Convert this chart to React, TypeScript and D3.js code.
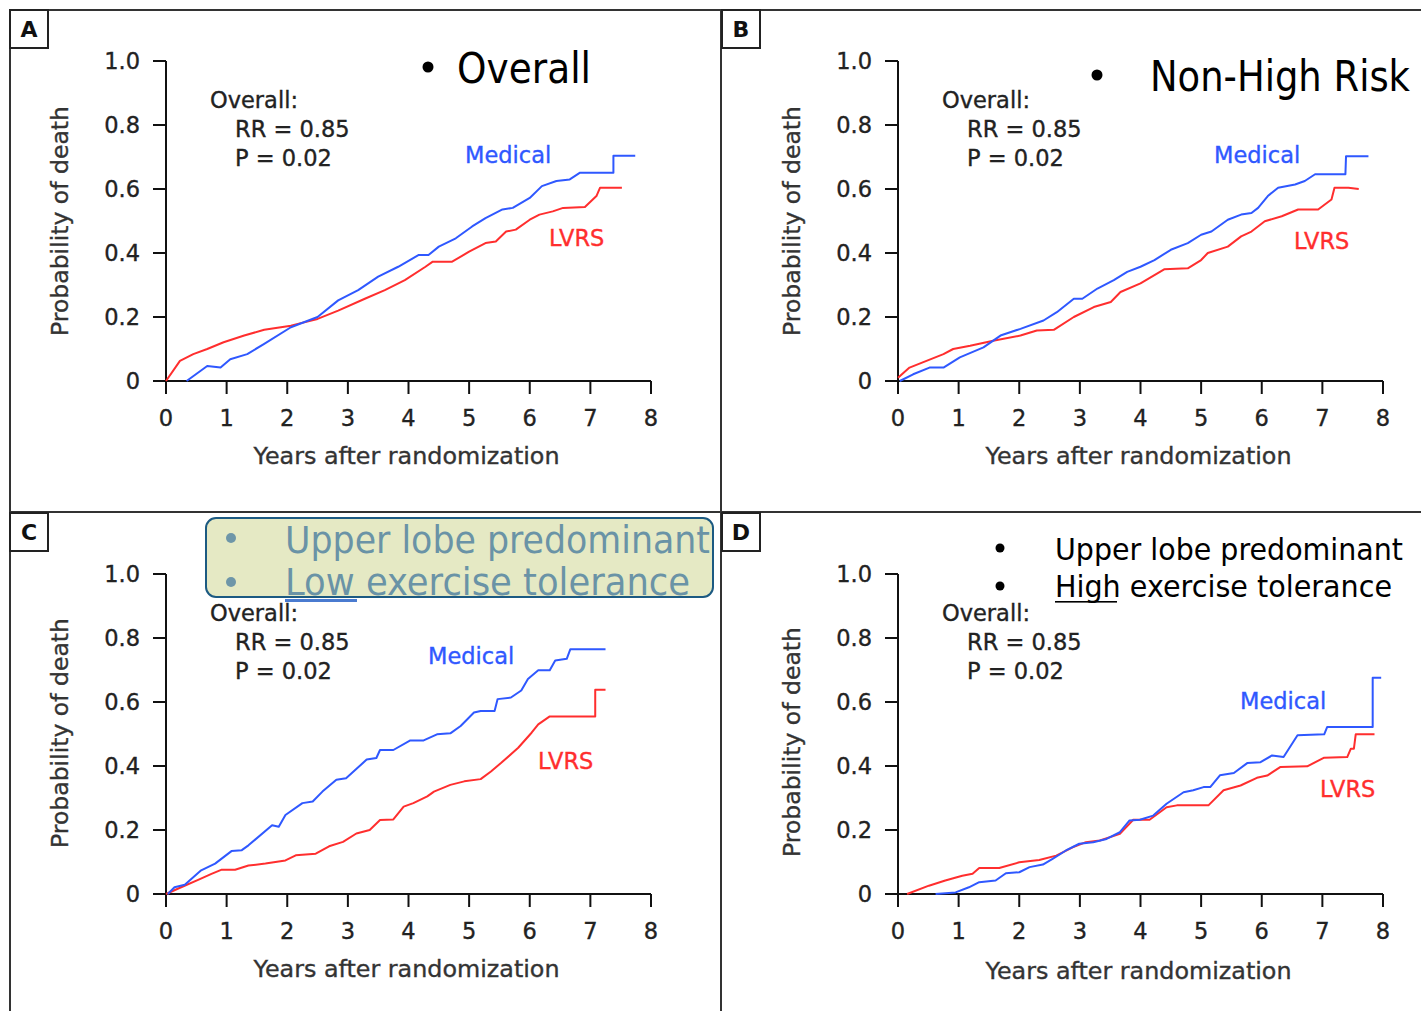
import React from "react";
import * as d3 from "d3";

// ---------- data (years after randomization, probability of death) ----------
const xTicks = [0, 1, 2, 3, 4, 5, 6, 7, 8];
const yTicks = [0, 0.2, 0.4, 0.6, 0.8, 1.0];
const yTickLabels = ["0", "0.2", "0.4", "0.6", "0.8", "1.0"];

const medicalA: [number, number][] = [
  [0.34, 0], [0.68, 0.047], [0.9, 0.042], [1.06, 0.068], [1.34, 0.084], [1.62, 0.116],
  [2.06, 0.168], [2.5, 0.2], [2.84, 0.252], [3.17, 0.284], [3.5, 0.326], [3.83, 0.357],
  [4.17, 0.394], [4.33, 0.394], [4.5, 0.42], [4.78, 0.446], [5.05, 0.483], [5.27, 0.509],
  [5.55, 0.536], [5.72, 0.541], [6.0, 0.572], [6.2, 0.609], [6.44, 0.625], [6.66, 0.63],
  [6.83, 0.651], [7.38, 0.651], [7.38, 0.704], [7.74, 0.704],
];
const lvrsA: [number, number][] = [
  [0, 0], [0.23, 0.063], [0.45, 0.084], [0.68, 0.1], [0.95, 0.121], [1.29, 0.142],
  [1.62, 0.16], [2.06, 0.173], [2.5, 0.194], [2.84, 0.22], [3.28, 0.257], [3.61, 0.284],
  [3.94, 0.315], [4.28, 0.357], [4.4, 0.373], [4.72, 0.373], [5.0, 0.404], [5.27, 0.431],
  [5.44, 0.436], [5.61, 0.467], [5.77, 0.473], [6.0, 0.504], [6.16, 0.52], [6.38, 0.53],
  [6.55, 0.541], [6.91, 0.544], [7.1, 0.578], [7.16, 0.604], [7.52, 0.604],
];
const medicalB: [number, number][] = [
  [0.03, 0], [0.25, 0.021], [0.52, 0.042], [0.75, 0.042], [1.02, 0.074], [1.41, 0.105],
  [1.69, 0.142], [2.02, 0.163], [2.4, 0.189], [2.62, 0.215], [2.9, 0.257], [3.04, 0.257],
  [3.29, 0.289], [3.56, 0.315], [3.78, 0.341], [4.0, 0.357], [4.23, 0.378], [4.5, 0.41],
  [4.78, 0.431], [5.0, 0.457], [5.17, 0.467], [5.44, 0.504], [5.66, 0.52], [5.83, 0.525],
  [5.94, 0.541], [6.1, 0.578], [6.27, 0.604], [6.55, 0.614], [6.71, 0.625], [6.88, 0.646],
  [7.38, 0.646], [7.39, 0.702], [7.76, 0.702],
];
const lvrsB: [number, number][] = [
  [0, 0.01], [0.19, 0.042], [0.47, 0.063], [0.75, 0.084], [0.91, 0.1], [1.19, 0.11],
  [1.57, 0.126], [2.02, 0.142], [2.29, 0.158], [2.57, 0.16], [2.9, 0.2], [3.23, 0.231],
  [3.51, 0.247], [3.67, 0.278], [4.0, 0.305], [4.39, 0.349], [4.78, 0.352], [5.0, 0.378],
  [5.11, 0.4], [5.44, 0.42], [5.66, 0.452], [5.83, 0.467], [6.05, 0.499], [6.33, 0.515],
  [6.6, 0.536], [6.93, 0.536], [7.15, 0.567], [7.2, 0.604], [7.43, 0.604], [7.6, 0.6],
];
const medicalC: [number, number][] = [
  [0.03, 0], [0.14, 0.021], [0.31, 0.029], [0.58, 0.074], [0.81, 0.095], [1.08, 0.134],
  [1.25, 0.137], [1.36, 0.152], [1.75, 0.215], [1.86, 0.21], [1.97, 0.247], [2.25, 0.284],
  [2.42, 0.289], [2.58, 0.32], [2.81, 0.357], [2.97, 0.362], [3.31, 0.42], [3.47, 0.425],
  [3.53, 0.45], [3.75, 0.45], [4.03, 0.48], [4.25, 0.48], [4.47, 0.499], [4.69, 0.502],
  [4.86, 0.525], [5.08, 0.567], [5.19, 0.572], [5.42, 0.572], [5.47, 0.609], [5.69, 0.614],
  [5.86, 0.636], [5.97, 0.672], [6.14, 0.699], [6.33, 0.699], [6.42, 0.73], [6.61, 0.735],
  [6.67, 0.765], [7.25, 0.765],
];
const lvrsC: [number, number][] = [
  [0, 0], [0.25, 0.021], [0.53, 0.044], [0.75, 0.063], [0.92, 0.076], [1.14, 0.076],
  [1.36, 0.089], [1.64, 0.095], [1.97, 0.105], [2.14, 0.121], [2.47, 0.126], [2.69, 0.149],
  [2.92, 0.163], [3.14, 0.189], [3.36, 0.2], [3.53, 0.231], [3.75, 0.233], [3.92, 0.273],
  [4.08, 0.284], [4.31, 0.305], [4.42, 0.32], [4.69, 0.341], [4.92, 0.352], [5.19, 0.359],
  [5.36, 0.383], [5.53, 0.41], [5.81, 0.457], [6.03, 0.504], [6.14, 0.53], [6.33, 0.555],
  [7.08, 0.555], [7.08, 0.638], [7.25, 0.638],
];
const medicalD: [number, number][] = [
  [0.62, 0], [0.95, 0.005], [1.17, 0.021], [1.34, 0.037], [1.61, 0.042], [1.78, 0.065],
  [2.0, 0.068], [2.17, 0.084], [2.39, 0.092], [2.55, 0.11], [2.77, 0.136], [2.99, 0.157],
  [3.22, 0.162], [3.44, 0.172], [3.66, 0.193], [3.82, 0.23], [3.99, 0.232], [4.21, 0.245],
  [4.43, 0.282], [4.71, 0.318], [4.87, 0.324], [5.04, 0.334], [5.15, 0.334], [5.31, 0.371],
  [5.54, 0.378], [5.76, 0.409], [5.98, 0.412], [6.17, 0.433], [6.36, 0.428], [6.59, 0.496],
  [7.03, 0.499], [7.08, 0.522], [7.83, 0.522], [7.83, 0.676], [7.97, 0.676],
];
const lvrsD: [number, number][] = [
  [0.15, 0], [0.51, 0.026], [0.78, 0.042], [1.06, 0.057], [1.23, 0.063], [1.34, 0.081],
  [1.67, 0.081], [2.0, 0.099], [2.33, 0.106], [2.61, 0.12], [2.88, 0.146], [3.1, 0.162],
  [3.33, 0.167], [3.66, 0.188], [3.88, 0.232], [4.15, 0.232], [4.43, 0.271], [4.6, 0.277],
  [5.12, 0.277], [5.37, 0.324], [5.65, 0.339], [5.92, 0.363], [6.09, 0.37], [6.31, 0.397],
  [6.75, 0.399], [7.03, 0.426], [7.41, 0.428], [7.47, 0.454], [7.52, 0.454], [7.55, 0.499],
  [7.86, 0.499],
];

const statLines = ["Overall:", "RR = 0.85", "P = 0.02"];
const seriesNames = ["Medical", "LVRS"];
const panelLetters = ["A", "B", "C", "D"];

// ---------- layout ----------
const W = 1421;
const H = 1011;
const BLUE = "#2f58ff";
const RED = "#ff2e2e";
const FONT = "'DejaVu Sans', Verdana, sans-serif";

type Panel = {
  letter: string;
  bx: number; by: number;
  ox: number; oy: number;
  med: [number, number][]; lvrs: [number, number][];
  medLab: [number, number]; lvrsLab: [number, number];
  yLabY: number; xLabY: number;
};

const panels: Panel[] = [
  { letter: panelLetters[0], bx: 10, by: 10, ox: 166, oy: 381, med: medicalA, lvrs: lvrsA,
    medLab: [465, 163], lvrsLab: [549, 246], yLabY: 221, xLabY: 464 },
  { letter: panelLetters[1], bx: 722, by: 10, ox: 898, oy: 381, med: medicalB, lvrs: lvrsB,
    medLab: [1214, 163], lvrsLab: [1294, 249], yLabY: 221, xLabY: 464 },
  { letter: panelLetters[2], bx: 10, by: 513, ox: 166, oy: 894, med: medicalC, lvrs: lvrsC,
    medLab: [428, 664], lvrsLab: [538, 769], yLabY: 733, xLabY: 977 },
  { letter: panelLetters[3], bx: 722, by: 513, ox: 898, oy: 894, med: medicalD, lvrs: lvrsD,
    medLab: [1240, 709], lvrsLab: [1320, 797], yLabY: 742, xLabY: 979 },
];

const textStyle = (fill: string) => ({
  fontFamily: FONT,
  fontSize: 22.5,
  fill,
  stroke: fill,
  strokeWidth: 0.35,
});

function Chart({ p }: { p: Panel }) {
  const x = d3.scaleLinear().domain([0, 8]).range([p.ox, p.ox + 485]);
  const y = d3.scaleLinear().domain([0, 1]).range([p.oy, p.oy - 320]);
  const line = d3
    .line<[number, number]>()
    .x((d) => x(d[0]))
    .y((d) => y(d[1]))
    .curve(d3.curveLinear);
  const tk = 13;
  return (
    <g>
      {/* panel letter box */}
      <rect x={p.bx} y={p.by} width={38} height={38} fill="#fff" stroke="#222" strokeWidth={2} />
      <text x={p.bx + 19} y={p.by + 27} textAnchor="middle" fontFamily={FONT} fontWeight="bold" fontSize={22} fill="#111">
        {p.letter}
      </text>
      {/* axes */}
      <line x1={x(0)} x2={x(0)} y1={y(1)} y2={p.oy + tk} stroke="#111" strokeWidth={2} />
      <line x1={p.ox - tk} x2={x(8)} y1={p.oy} y2={p.oy} stroke="#111" strokeWidth={2} />
      {yTicks.map((t, i) => (
        <g key={"y" + i}>
          <line x1={p.ox - tk} x2={p.ox} y1={y(t)} y2={y(t)} stroke="#111" strokeWidth={2} />
          <text x={p.ox - 26} y={y(t) + 8} textAnchor="end" {...textStyle("#222")}>
            {yTickLabels[i]}
          </text>
        </g>
      ))}
      {xTicks.map((t) => (
        <g key={"x" + t}>
          <line x1={x(t)} x2={x(t)} y1={p.oy} y2={p.oy + tk} stroke="#111" strokeWidth={2} />
          <text x={x(t)} y={p.oy + 45} textAnchor="middle" {...textStyle("#222")}>
            {t}
          </text>
        </g>
      ))}
      <text
        x={x(4) - 2}
        y={p.xLabY}
        textAnchor="middle"
        textLength={306}
        lengthAdjust="spacingAndGlyphs"
        {...textStyle("#333")}
      >
        Years after randomization
      </text>
      <text
        transform={`translate(${p.ox - 98},${p.yLabY}) rotate(-90)`}
        textAnchor="middle"
        textLength={230}
        lengthAdjust="spacingAndGlyphs"
        {...textStyle("#333")}
      >
        Probability of death
      </text>
      {/* stats */}
      {statLines.map((s, i) => (
        <text key={s} x={p.ox + (i === 0 ? 44 : 69)} y={p.oy - 273 + i * 29} {...textStyle("#222")}>
          {s}
        </text>
      ))}
      {/* curves */}
      <path d={line(p.lvrs) || ""} fill="none" stroke={RED} strokeWidth={2} strokeLinejoin="round" />
      <path d={line(p.med) || ""} fill="none" stroke={BLUE} strokeWidth={2} strokeLinejoin="round" />
      <text x={p.medLab[0]} y={p.medLab[1]} {...textStyle(BLUE)}>
        {seriesNames[0]}
      </text>
      <text x={p.lvrsLab[0]} y={p.lvrsLab[1]} {...textStyle(RED)}>
        {seriesNames[1]}
      </text>
    </g>
  );
}

const BFONT = "Tahoma, 'DejaVu Sans', sans-serif";

export default function App() {
  return (
    <svg
      width={W}
      height={H}
      viewBox={`0 0 ${W} ${H}`}
      style={{ position: "absolute", left: 0, top: 0, display: "block", background: "#fff" }}
    >
      <rect x={0} y={0} width={W} height={H} fill="#fff" />
      {/* frame */}
      <line x1={9} x2={W} y1={10} y2={10} stroke="#333" strokeWidth={2} />
      <line x1={10} x2={10} y1={10} y2={H} stroke="#333" strokeWidth={2} />
      <line x1={721} x2={721} y1={10} y2={H} stroke="#333" strokeWidth={2} />
      <line x1={9} x2={W} y1={512} y2={512} stroke="#333" strokeWidth={2} />

      {panels.map((p) => (
        <Chart key={p.letter} p={p} />
      ))}

      {/* A annotation */}
      <circle cx={428} cy={67} r={5.5} fill="#000" />
      <text x={457} y={83} fontFamily={BFONT} fontSize={42} textLength={134} lengthAdjust="spacingAndGlyphs" fill="#000">
        Overall
      </text>

      {/* B annotation */}
      <circle cx={1097} cy={75} r={5.5} fill="#000" />
      <text x={1150} y={91} fontFamily={BFONT} fontSize={42} textLength={260} lengthAdjust="spacingAndGlyphs" fill="#000">
        Non-High Risk
      </text>

      {/* C annotation box */}
      <rect x={206} y={518} width={507} height={79} rx={10} ry={10} fill="#e5e9c4" stroke="#1c5a82" strokeWidth={2} />
      <circle cx={231} cy={538} r={5} fill="#6e96a8" />
      <circle cx={231} cy={582} r={5} fill="#6e96a8" />
      <text x={285} y={553} fontFamily={BFONT} fontSize={37} textLength={425} lengthAdjust="spacingAndGlyphs" fill="#6a93a6">
        Upper lobe predominant
      </text>
      <text x={285} y={595} fontFamily={BFONT} fontSize={37} textLength={405} lengthAdjust="spacingAndGlyphs" fill="#6a93a6">
        Low exercise tolerance
      </text>
      <rect x={285} y={599} width={72} height={3} fill="#4a7bd0" />

      {/* D annotation */}
      <circle cx={1000} cy={548} r={4.5} fill="#000" />
      <circle cx={1000} cy={586} r={4.5} fill="#000" />
      <text x={1055} y={560} fontFamily={BFONT} fontSize={31} textLength={348} lengthAdjust="spacingAndGlyphs" fill="#000">
        Upper lobe predominant
      </text>
      <text x={1055} y={597} fontFamily={BFONT} fontSize={31} textLength={337} lengthAdjust="spacingAndGlyphs" fill="#000">
        High exercise tolerance
      </text>
      <rect x={1055} y={601} width={62} height={1.6} fill="#000" />
    </svg>
  );
}
